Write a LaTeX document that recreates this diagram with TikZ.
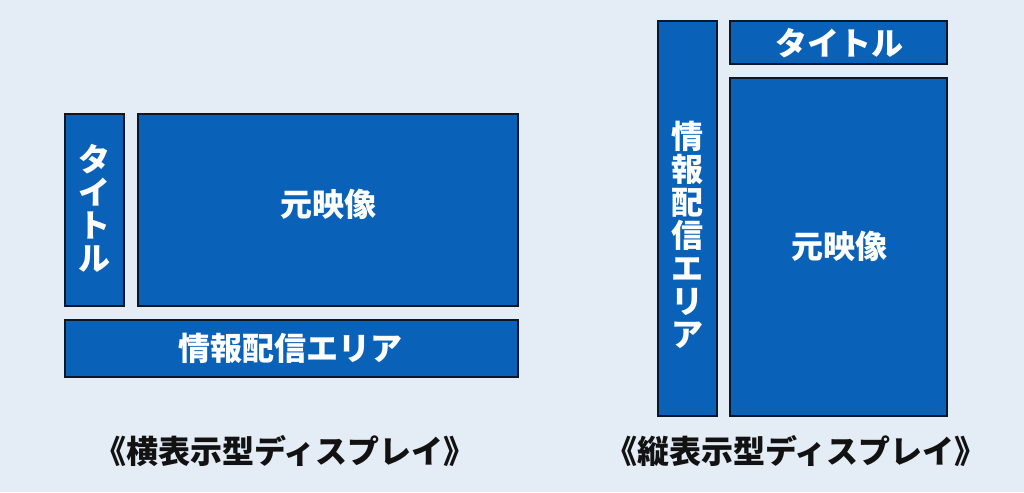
\documentclass[tikz,border=0pt]{standalone}
\usepackage{fontspec}
\newfontfamily\cjk{Noto Sans CJK JP}
\definecolor{bg}{HTML}{E4ECF6}
\definecolor{boxblue}{HTML}{0A62B8}
\definecolor{edge}{HTML}{0B1626}
\begin{document}
\begin{tikzpicture}[x=1pt,y=-1pt,
  panel/.style={draw=edge,line width=2pt,fill=boxblue},
  lbl/.style={text=white,font=\cjk\bfseries\fontsize{32}{32}\selectfont,inner sep=0pt},
  vlbl/.style={text=white,font=\cjk\bfseries\fontsize{32}{33}\selectfont,inner sep=0pt,align=center},
  captext/.style={text=black!93,font=\cjk\bfseries\fontsize{32}{32}\selectfont,inner sep=0pt}]
\fill[bg] (0,0) rectangle (1024,492);
\useasboundingbox (0,0) rectangle (1024,492);
% left layout
\draw[panel] (65,114) rectangle (124,306);
\draw[panel] (138,114) rectangle (518,306);
\draw[panel] (65,320) rectangle (518,377);
\node[vlbl] (ltitle) at (94.5,208) {タ\\イ\\ト\\ル};
\node[lbl] (lmain) at (328,204) {元映像};
\node[lbl] (linfo) at (290,348) {情報配信エリア};
% right layout
\draw[panel] (658,21) rectangle (717,416);
\draw[panel] (730,21) rectangle (947,64);
\draw[panel] (730,78) rectangle (947,416);
\node[vlbl] (rinfo) at (687.5,235) {情\\報\\配\\信\\エ\\リ\\ア};
\node[lbl] (rtitle) at (839,43) {タイトル};
\node[lbl] (rmain) at (839,246) {元映像};
% captions
\node[captext] (lcap) at (285,451) {《横表示型ディスプレイ》};
\node[captext] (rcap) at (796,451) {《縦表示型ディスプレイ》};
\end{tikzpicture}
\end{document}
